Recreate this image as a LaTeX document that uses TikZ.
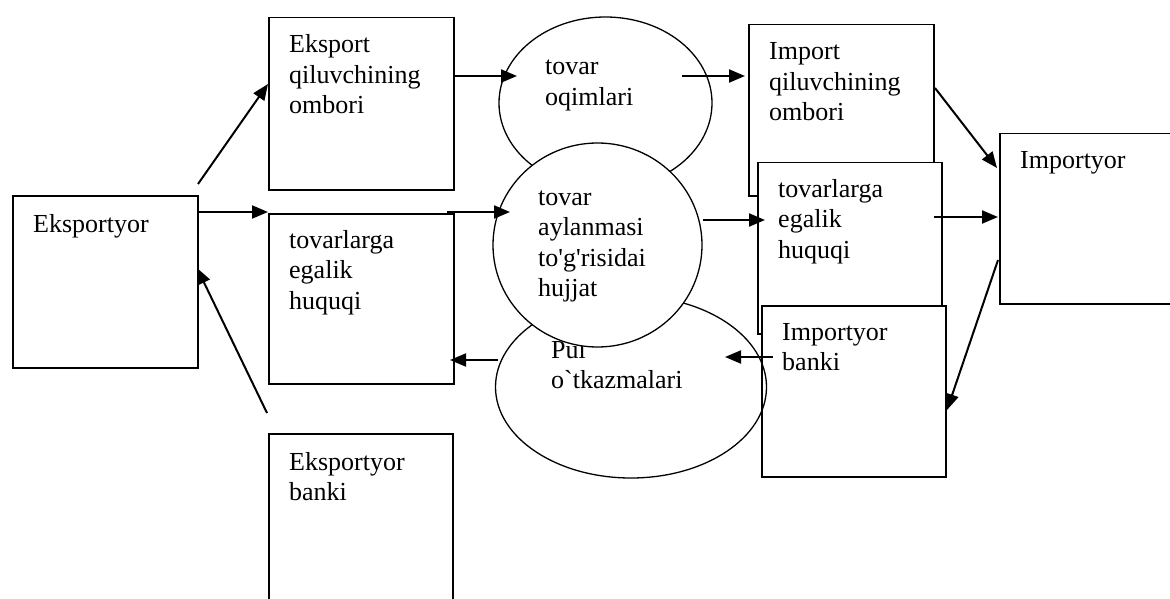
\documentclass[tikz,border=0pt]{standalone}
\usepackage{fontspec}
\setmainfont{Liberation Serif}
\newfontfamily\rawserif{Liberation Serif}
\usetikzlibrary{arrows.meta,shapes.geometric}
\begin{document}
\begin{tikzpicture}[x=1pt,y=-1pt,
  box/.style={draw, line width=1.5pt, fill=white, inner sep=0pt, anchor=north west},
  ell/.style={draw, ellipse, line width=1.3pt, inner sep=0pt},
  lbl/.style={anchor=base west, inner sep=0pt, text width=200pt, align=left, font=\rawserif\fontsize{26}{30.5}\selectfont},
  arr/.style={line width=2pt, -{Triangle[length=16pt,width=13pt]}}
]
\useasboundingbox (0,0) rectangle (1170,599);
\clip (0,0) rectangle (1170,599);
% boxes
\node[box, minimum width=185pt, minimum height=172pt] (exp) at (12,195) {};
\node[box, minimum width=185pt, minimum height=172pt] (omb1) at (268,17) {};
\node[box, minimum width=185pt, minimum height=170pt] (teh1) at (268,213) {};
\node[box, minimum width=184pt, minimum height=200pt] (ebank) at (268,433) {};
\node[box, minimum width=185pt, minimum height=171pt] (impomb) at (748,24) {};
\node[box, minimum width=184pt, minimum height=171pt] (teh2) at (757,162) {};
\node[box, minimum width=184pt, minimum height=171pt] (ibank) at (761,305) {};
\node[box, minimum width=250pt, minimum height=170pt] (impt) at (999,133) {};
% box texts
\node[lbl] (texp) at (33,232) {Eksportyor};
\node[lbl] (tomb1) at (289,53) {Eksport\\qiluvchining\\ombori};
\node[lbl] (tteh1) at (289,248) {tovarlarga\\egalik\\huquqi};
\node[lbl] (tebank) at (289,470) {Eksportyor\\banki};
\node[lbl] (timpomb) at (769,60) {Import\\qiluvchining\\ombori};
\node[lbl] (tteh2) at (778,197) {tovarlarga\\egalik\\huquqi};
\node[lbl] (tibank) at (782,340) {Importyor\\banki};
\node[lbl] (timpt) at (1020,168) {Importyor};
% ellipses
\node[ell, fill=white, minimum width=213pt, minimum height=172pt] (oq) at (605.5,103) {};
\node[lbl] (toq) at (545,75) {tovar\\oqimlari};
\node[ell, minimum width=271pt, minimum height=182pt] (pul) at (631,387) {};
\node[lbl] (tpul) at (551,358) {Pul\\o`tkazmalari};
\node[ell, fill=white, minimum width=209pt, minimum height=204pt] (ayl) at (597.5,245) {};
\node[lbl] (tayl) at (538,205) {tovar\\aylanmasi\\to'g'risidai\\hujjat};
% arrow ends
\coordinate (a1s) at (198,184);  \coordinate (a1e) at (268,84);
\coordinate (a2s) at (198,212);  \coordinate (a2e) at (268,212);
\coordinate (a3s) at (267,413);  \coordinate (a3e) at (197,268);
\coordinate (a4s) at (453,76);   \coordinate (a4e) at (517,76);
\coordinate (a5s) at (447,212);  \coordinate (a5e) at (510,212);
\coordinate (a6s) at (498,360);  \coordinate (a6e) at (450,360);
\coordinate (a7s) at (682,76);   \coordinate (a7e) at (745,76);
\coordinate (a8s) at (703,220);  \coordinate (a8e) at (765,220);
\coordinate (a9s) at (773,357);  \coordinate (a9e) at (725,357);
\coordinate (a10s) at (935,88);  \coordinate (a10e) at (997,168);
\coordinate (a11s) at (934,217); \coordinate (a11e) at (998,217);
\coordinate (a12s) at (998,260); \coordinate (a12e) at (947,410);
\foreach \i in {1,...,12} { \draw[arr] (a\i s) -- (a\i e); }
\end{tikzpicture}
\end{document}
